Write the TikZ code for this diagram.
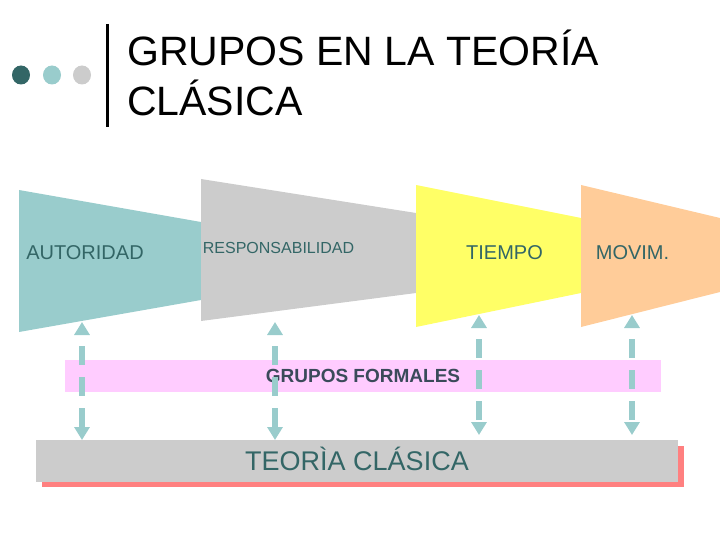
\documentclass[tikz,border=0pt]{standalone}
\usepackage{fontspec}
\setmainfont{Liberation Sans}
\usetikzlibrary{arrows.meta, positioning}
\definecolor{tealdark}{HTML}{336666}
\definecolor{teallight}{HTML}{99CCCC}
\definecolor{graylight}{HTML}{CCCCCC}
\definecolor{yellowlight}{HTML}{FFFF66}
\definecolor{orangelight}{HTML}{FFCC99}
\definecolor{pinklight}{HTML}{FFCCFF}
\definecolor{shadowred}{HTML}{FF8080}
\definecolor{slatetext}{HTML}{3A4A5A}

\begin{document}
\begin{tikzpicture}[
    x=1pt, y=-1pt,
    >={Triangle[width=15pt,length=13pt]},
    every node/.style={inner sep=0pt, text=tealdark},
    lbl/.style={anchor=base, font=\fontsize{20}{24}\selectfont},
    heading/.style={anchor=base west, text=black, font=\fontsize{41}{50}\selectfont},
    link/.style={<->, teallight, line width=6pt, dash pattern=on 19pt off 12pt, dash phase=19pt},
]
\useasboundingbox (0,0) rectangle (720,540);
% heading: three dots, rule and title
\fill[tealdark] (21,75) ellipse [x radius=9pt, y radius=9.5pt];
\fill[teallight] (52,75) ellipse [x radius=9pt, y radius=9.5pt];
\fill[graylight] (82,75) ellipse [x radius=9pt, y radius=9.5pt];
\draw[black, line width=3pt] (107,24) -- (107,127);
\node[heading] (title1) at (127,66) {GRUPOS EN LA TEORÍA};
\node[heading] (title2) at (127,116) {CLÁSICA};
% the four funnels
\fill[teallight] (19,190) -- (201,222) -- (201,300) -- (19,332) -- cycle;
\fill[graylight] (201,179) -- (416,213) -- (416,293) -- (201,321) -- cycle;
\fill[yellowlight] (416,185) -- (581,218) -- (581,293) -- (416,327) -- cycle;
\fill[orangelight] (581,185) -- (720,218) -- (720,292) -- (581,327) -- cycle;
\node[lbl] (autoridad) at (85,259) {AUTORIDAD};
\node[lbl, font=\fontsize{16}{19}\selectfont] (responsabilidad) at (278.5,253) {RESPONSABILIDAD};
\node[lbl] (tiempo) at (504.5,259) {TIEMPO};
\node[lbl] (movim) at (632.5,259) {MOVIM.};
% band and base box
\node[fill=pinklight, minimum width=596pt, minimum height=32pt, text height=13.5pt, text depth=0pt,
      text=slatetext, font=\fontsize{19}{23}\selectfont\bfseries] (formales) at (363,376) {GRUPOS FORMALES};
\fill[shadowred] (42,446) rectangle (684,487);
\node[fill=graylight, minimum width=642pt, minimum height=42pt, text height=19.5pt, text depth=0pt,
      font=\fontsize{27}{32}\selectfont] (clasica) at (357,461) {TEORÌA CLÁSICA};
% links between funnels and base
\foreach \x/\t/\b in {82/322/440, 275/322/440, 479/315/435, 632/315/435}{
  \coordinate (top\x) at (\x,\t);
  \coordinate (bot\x) at (\x,\b);
  \draw[link] (top\x) -- (bot\x);
}
\end{tikzpicture}
\end{document}
